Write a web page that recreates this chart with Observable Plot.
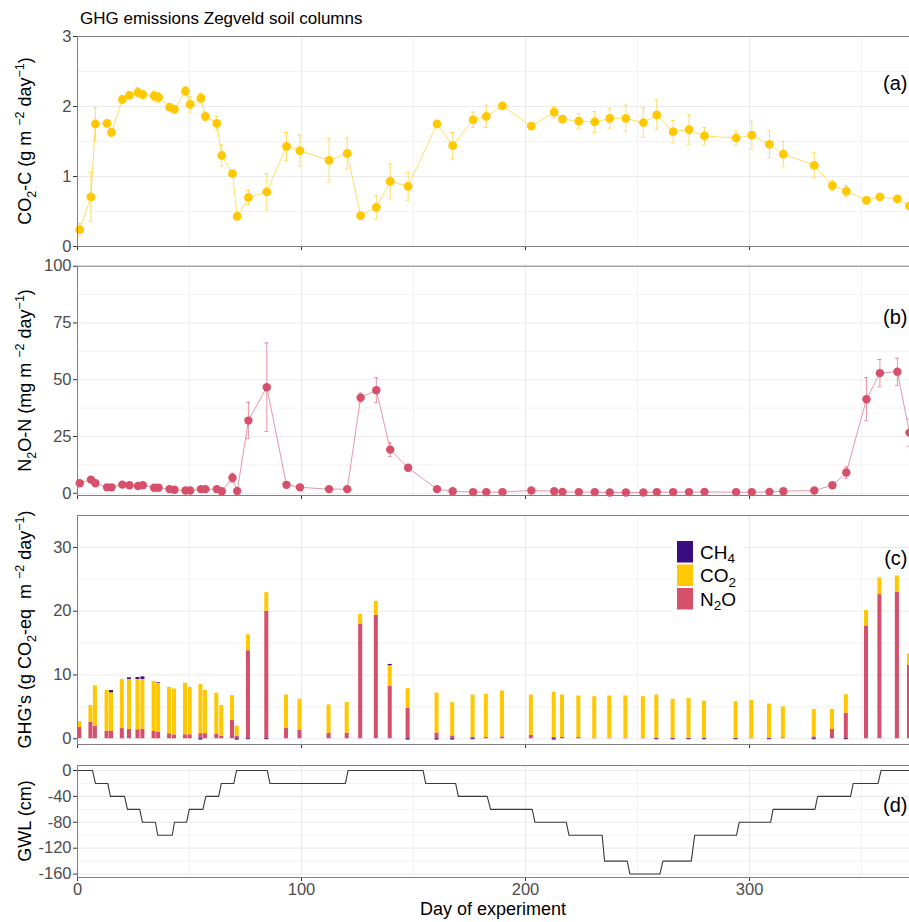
<!DOCTYPE html>
<html><head><meta charset="utf-8">
<script src="https://cdn.jsdelivr.net/npm/d3@7"></script>
<script src="https://cdn.jsdelivr.net/npm/@observablehq/plot@0.6"></script>
<style>
body{margin:0;background:#fff;font-family:"Liberation Sans",Arial,sans-serif;}
#wrap{position:relative;width:909px;height:922px;overflow:hidden;background:#fff;}
#title{position:absolute;left:80px;top:9.5px;font-size:17px;line-height:1;color:#000;white-space:nowrap;}
</style></head><body>
<div id="wrap"><div id="title">GHG emissions Zegveld soil columns</div></div>
<script>
// ---------- data ----------
const day = [1.0,6.0,8.0,13.2,15.2,20.0,23.2,27.0,29.2,34.2,
  36.2,41.1,43.3,48.2,50.3,55.1,57.1,62.2,64.4,69.2,
  71.3,76.3,84.5,93.3,99.3,112.3,120.4,126.4,133.4,139.6,
  147.6,160.5,167.5,176.6,182.5,189.7,202.6,212.8,216.5,223.8,
  230.9,237.6,244.8,252.6,258.6,265.9,273.0,279.9,294.0,301.0,
  308.9,315.1,328.9,337.0,343.2,352.2,358.2,366.0,371.4];
const co2C = [0.24,0.71,1.75,1.76,1.63,2.10,2.16,2.20,2.17,2.15,
  2.13,1.99,1.96,2.22,2.03,2.12,1.86,1.76,1.30,1.04,
  0.43,0.70,0.78,1.43,1.37,1.23,1.33,0.44,0.56,0.93,
  0.86,1.75,1.44,1.81,1.86,2.01,1.72,1.92,1.82,1.79,
  1.78,1.83,1.83,1.77,1.88,1.64,1.67,1.58,1.55,1.59,
  1.46,1.32,1.16,0.87,0.79,0.66,0.71,0.68,0.58];
const co2CErr = [0.09,0.35,0.23,0.03,0.06,0.05,0.05,0.07,0.06,0.07,
  0.07,0.02,0.02,0.06,0.11,0.07,0.06,0.10,0.15,0.03,
  0.03,0.10,0.26,0.20,0.22,0.31,0.22,0.03,0.17,0.25,
  0.20,0.02,0.19,0.11,0.16,0.03,0.03,0.08,0.03,0.11,
  0.15,0.14,0.19,0.21,0.21,0.16,0.21,0.12,0.10,0.20,
  0.19,0.18,0.18,0.07,0.08,0.03,0.03,0.03,0.03];
const n2oN = [4.4,6.0,4.4,2.6,2.6,3.8,3.5,3.2,3.5,2.4,
  2.4,1.8,1.5,1.2,1.2,1.8,1.8,1.8,0.9,6.8,
  1.0,32.0,46.7,3.7,2.6,1.8,1.8,42.1,45.4,19.2,
  11.2,1.8,0.9,0.5,0.5,0.5,1.2,0.9,0.6,0.5,
  0.5,0.3,0.3,0.3,0.5,0.5,0.5,0.6,0.5,0.5,
  0.6,0.9,1.2,3.5,9.1,41.4,52.9,53.5,26.7];
const n2oNErr = [0.5,1.0,0.6,0.4,0.4,0.5,0.4,0.4,0.4,0.3,
  0.3,0.3,0.2,0.2,0.2,0.3,0.3,0.3,0.2,2.0,
  0.3,8.0,19.5,0.5,0.4,0.3,0.3,2.0,5.5,3.0,
  1.0,0.3,0.2,0.1,0.1,0.1,0.2,0.2,0.1,0.1,
  0.1,0.1,0.1,0.1,0.1,0.1,0.1,0.1,0.1,0.1,
  0.1,0.2,0.2,0.8,2.5,9.5,6.0,6.0,6.0];
const ghgN2O = [1.77,2.56,1.93,1.20,1.20,1.60,1.50,1.40,1.50,1.15,
  1.00,0.78,0.60,0.63,0.63,0.80,0.80,0.75,0.40,2.90,
  0.40,13.8,20.0,1.60,1.30,0.85,0.85,18.0,19.35,8.2,
  4.8,0.90,0.45,0.25,0.20,0.30,0.55,0.20,0.20,0.20,
  0.10,0.10,0.10,0.10,0.10,0.10,0.10,0.10,0.10,0.10,
  0.10,0.15,0.30,1.45,4.00,17.7,22.6,23.0,11.5];
const ghgCO2 = [0.90,2.64,6.37,6.38,6.00,7.70,7.80,7.90,7.80,7.85,
  7.70,7.27,7.20,8.07,7.42,7.70,6.80,6.40,4.80,3.85,
  1.60,2.50,2.90,5.25,4.90,4.45,4.85,1.50,2.20,3.25,
  3.05,6.25,5.20,6.60,6.75,7.20,6.30,7.10,6.65,6.50,
  6.50,6.60,6.60,6.50,6.75,6.10,6.20,5.80,5.70,5.90,
  5.35,4.85,4.30,3.15,2.90,2.40,2.60,2.50,1.80];
const ghgCH4 = [0,0,0,0,0.35,0,0.25,0.30,0.40,0,
  0.10,0,0,0,0,-0.20,0,0,0,0,
  -0.20,-0.15,-0.15,0,0,0,0,0,0,0.20,
  -0.20,-0.20,-0.20,-0.15,0,0,0,-0.20,0,0,
  0,0,0,0,-0.15,-0.15,-0.15,-0.15,-0.15,0,
  -0.15,0,-0.15,0,-0.15,0,0,0,0];
const gwlDay = [0,6.7,8,13.5,14.7,21,22.3,27.8,29,34.8,35.8,42.3,43.3,48.7,49.9,56,57.3,63,64.2,69.8,71,
  84.7,85.9,119.6,120.8,154.3,155.4,168.8,170,182.9,184.4,203,204.2,218.2,219.4,234.2,235.3,245.4,246.6,
  260,261.3,274,275.5,294.2,295.4,309.4,310.5,329.2,330.4,345.1,346.3,357.4,358.7,373];
const gwlLevel = [0,0,-20,-20,-40,-40,-60,-60,-80,-80,-100,-100,-80,-80,-60,-60,-40,-40,-20,-20,0,
  0,-20,-20,0,0,-20,-20,-40,-40,-60,-60,-80,-80,-100,-100,-140,-140,-160,
  -160,-140,-140,-100,-100,-80,-80,-60,-60,-40,-40,-20,-20,0,0];
const xTicks = [0,100,200,300];
const xMinor = [50,150,250,350];
const gasNames = [["CH","4"],["CO","2"],["N","2","O"]];

// ---------- style ----------
const YELLOW = "#FFC800", PINK = "#D6506B", PURPLE = "#3D0B80";
const FONT = "'Liberation Sans', Arial, Helvetica, sans-serif";
const W = 912, ML = 77, MR = 1;
const xDomain = [0, 372.3];
const wrap = document.getElementById("wrap");
const rows = day.map((d, i) => ({day: d, co2: co2C[i], co2e: co2CErr[i], n2o: n2oN[i], n2oe: n2oNErr[i],
  gN: ghgN2O[i], gC: ghgCO2[i], gM: ghgCH4[i]}));
const gwl = gwlDay.map((d, i) => ({day: d, level: gwlLevel[i]}));
const GRID = "#EBEBEB";

function grids(yMajor, yMinor) {
  return [
    Plot.gridX({ticks: xMinor, stroke: GRID, strokeOpacity: 1, strokeWidth: 0.6}),
    Plot.gridY({ticks: yMinor, stroke: GRID, strokeOpacity: 1, strokeWidth: 0.6}),
    Plot.gridX({ticks: xTicks, stroke: GRID, strokeOpacity: 1, strokeWidth: 1.1}),
    Plot.gridY({ticks: yMajor, stroke: GRID, strokeOpacity: 1, strokeWidth: 1.1})
  ];
}
function axes(yMajor, showX) {
  return [
    Plot.axisY({ticks: yMajor, tickSize: 4, tickPadding: 2, fontSize: 16.5, label: null,
      tickFormat: d => String(d), fill: "#4D4D4D", stroke: "#333"}),
    Plot.axisX({ticks: xTicks, tickSize: 4, tickPadding: 2, fontSize: 16.5, label: null,
      tickFormat: showX ? (d => String(d)) : (() => ""), fill: "#4D4D4D", stroke: "#333"})
  ];
}
function tag(s, dy) {
  return Plot.text([s], {frameAnchor: "top-right", dx: -4, dy, fontSize: 20, textAnchor: "end", fill: "#000"});
}
function panel(top, height, mt, mb, yDomain, marks) {
  const svg = Plot.plot({width: W, height, marginLeft: ML, marginRight: MR, marginTop: mt, marginBottom: mb,
    style: {fontFamily: FONT, background: "transparent", overflow: "visible"},
    x: {domain: xDomain}, y: {domain: yDomain}, marks});
  svg.style.position = "absolute"; svg.style.left = "0px"; svg.style.top = top + "px";
  svg.style.maxWidth = "none";
  wrap.appendChild(svg);
  return svg;
}
function yTitle(svg, parts, cy) {
  const t = d3.select(svg).append("text")
    .attr("transform", `translate(31,${cy}) rotate(-90)`)
    .attr("text-anchor", "middle").attr("font-size", 18).attr("fill", "#000").attr("font-family", FONT);
  let shift = 0;
  for (const [s, k] of parts) {
    const target = k === "sub" ? 4.5 : k === "sup" ? -7 : 0;
    const sp = t.append("tspan").text(s).attr("dy", target - shift);
    shift = target;
    if (k) sp.attr("font-size", 12.5);
  }
}
function errMarks(yv, ye, color) {
  return [
    Plot.ruleX(rows, {x: "day", y1: d => d[yv] - d[ye], y2: d => d[yv] + d[ye], stroke: color, strokeOpacity: 0.6, strokeWidth: 1}),
    Plot.ruleY(rows, {y: d => d[yv] + d[ye], x1: d => d.day - 0.9, x2: d => d.day + 0.9, stroke: color, strokeOpacity: 0.6}),
    Plot.ruleY(rows, {y: d => d[yv] - d[ye], x1: d => d.day - 0.9, x2: d => d.day + 0.9, stroke: color, strokeOpacity: 0.6})
  ];
}

// ---------- panel (a) ----------
const aMaj = [0,1,2,3], aMin = [0.5,1.5,2.5];
const svgA = panel(26, 230, 10, 10, [0, 3], [
  ...grids(aMaj, aMin), ...axes(aMaj, false),
  Plot.line(rows, {x: "day", y: "co2", stroke: YELLOW, strokeOpacity: 0.6, strokeWidth: 1}),
  ...errMarks("co2", "co2e", YELLOW),
  Plot.dot(rows, {x: "day", y: "co2", r: 4.4, fill: YELLOW}),
  Plot.frame({stroke: "#808080"}),
  tag("(a)", 39)
]);
yTitle(svgA, [["CO"],["2","sub"],["-C (g m "],["−2","sup"],[" day"],["−1","sup"],[")"]], 115);

// ---------- panel (b) ----------
const bMaj = [0,25,50,75,100], bMin = [12.5,37.5,62.5,87.5];
const svgB = panel(256, 249, 9.7, 10, [-1, 100], [
  ...grids(bMaj, bMin), ...axes(bMaj, false),
  Plot.line(rows, {x: "day", y: "n2o", stroke: PINK, strokeOpacity: 0.6, strokeWidth: 1}),
  ...errMarks("n2o", "n2oe", PINK),
  Plot.dot(rows, {x: "day", y: "n2o", r: 4.2, fill: PINK}),
  Plot.frame({stroke: "#808080"}),
  tag("(b)", 44)
]);
yTitle(svgB, [["N"],["2","sub"],["O-N (mg m "],["−2","sup"],[" day"],["−1","sup"],[")"]], 124.4);

// ---------- panel (c) ----------
const cMaj = [0,10,20,30], cMin = [5,15,25,35];
const bx1 = d => d.day - 0.9, bx2 = d => d.day + 0.9;
const svgC = panel(505, 249, 10, 10, [-0.9, 35], [
  ...grids(cMaj, cMin), ...axes(cMaj, false),
  Plot.rect(rows, {x1: bx1, x2: bx2, y1: 0, y2: "gN", fill: PINK}),
  Plot.rect(rows, {x1: bx1, x2: bx2, y1: "gN", y2: d => d.gN + d.gC, fill: YELLOW}),
  Plot.rect(rows.filter(d => d.gM !== 0), {x1: bx1, x2: bx2,
    y1: d => d.gM > 0 ? d.gN + d.gC : 0, y2: d => d.gM > 0 ? d.gN + d.gC + d.gM : d.gM, fill: PURPLE}),
  Plot.frame({stroke: "#808080"}),
  tag("(c)", 35)
]);
yTitle(svgC, [["GHG's (g CO"],["2","sub"],["-eq  m "],["−2","sup"],[" day"],["−1","sup"],[")"]], 124.5);
// legend
{
  const g = d3.select(svgC).append("g").attr("font-family", FONT).attr("text-anchor", "start");
  g.append("rect").attr("x", 672).attr("y", 32).attr("width", 72).attr("height", 76).attr("fill", "#fff");
  const cols = [PURPLE, YELLOW, PINK];
  const ys = [36, 59.5, 83];
  gasNames.forEach((parts, i) => {
    g.append("rect").attr("x", 677).attr("y", ys[i]).attr("width", 16).attr("height", 21.5).attr("fill", cols[i]);
    const t = g.append("text").attr("x", 700).attr("y", ys[i] + 17.5).attr("font-size", 19)
      .attr("fill", "#000").attr("text-anchor", "start");
    t.append("tspan").text(parts[0]);
    t.append("tspan").text(parts[1]).attr("font-size", 13.5).attr("dy", 4.5);
    if (parts[2]) t.append("tspan").text(parts[2]).attr("dy", -4.5);
  });
}

// ---------- panel (d) ----------
const dMaj = [0,-40,-80,-120,-160], dMin = [-20,-60,-100,-140];
const svgD = panel(755, 167, 10, 45, [-165.3, 7.7], [
  ...grids(dMaj, dMin), ...axes(dMaj, true),
  Plot.line(gwl, {x: "day", y: "level", stroke: "#3A3A3A", strokeWidth: 1.1}),
  Plot.frame({stroke: "#808080"}),
  tag("(d)", 32.5)
]);
yTitle(svgD, [["GWL (cm)"]], 66);
d3.select(svgD).append("text").attr("x", 493).attr("y", 160).attr("text-anchor", "middle")
  .attr("font-size", 18).attr("font-family", FONT).attr("fill", "#000").text("Day of experiment");
</script>
</body></html>
